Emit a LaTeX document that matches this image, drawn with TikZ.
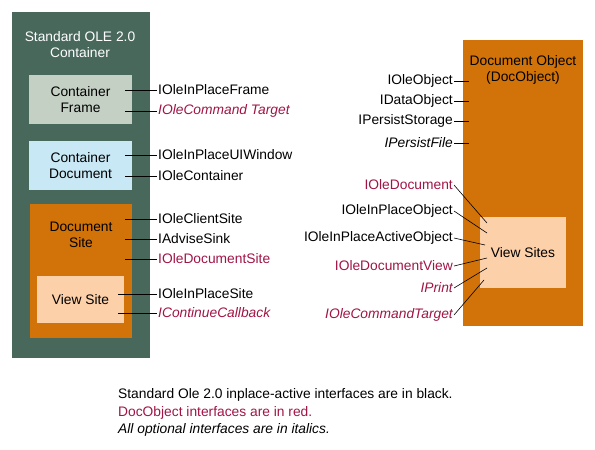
\documentclass[tikz,border=0pt]{standalone}
\usepackage{fontspec}
\setmainfont{Liberation Sans}
\usepackage{xcolor}
\usetikzlibrary{positioning}
\definecolor{contgreen}{RGB}{72,104,92}
\definecolor{framegray}{RGB}{197,208,197}
\definecolor{docblue}{RGB}{200,232,245}
\definecolor{siteorange}{RGB}{210,115,10}
\definecolor{viewpeach}{RGB}{252,208,168}
\definecolor{docred}{RGB}{160,20,70}

\begin{document}
\begin{tikzpicture}[x=1pt,y=-1pt,
  every node/.style={font=\fontsize{13.8}{16}\selectfont},
  panel/.style={draw=none,inner sep=0pt,align=center},
  iface/.style={inner sep=1pt},
  redface/.style={iface,text=docred},
  optface/.style={iface,font=\fontsize{13.8}{16}\selectfont\itshape},
  optred/.style={optface,text=docred},
  wire/.style={draw=black,line width=0.6pt}
]
\useasboundingbox (0,0) rectangle (595,450);

% container side
\node[panel,fill=contgreen,minimum width=138pt,minimum height=346pt] (container) at (81,185) {};
\node[panel,text=white] (contTitle) at (80,45) {Standard OLE 2.0\\Container};
\node[panel,fill=framegray,minimum width=103pt,minimum height=49pt] (frame) at (80.5,99.5) {Container\\Frame};
\node[panel,fill=docblue,minimum width=103pt,minimum height=49pt] (document) at (80.5,165.5) {Container\\Document};
\node[panel,fill=siteorange,minimum width=102pt,minimum height=134pt] (docsite) at (81,271) {};
\node[panel] (docsiteTitle) at (81,235) {Document\\Site};
\node[panel,fill=viewpeach,minimum width=87pt,minimum height=47pt] (viewsite) at (80.5,299.5) {View Site};

% container interfaces
\node[iface,anchor=west] (inplaceframe) at (157,90) {IOleInPlaceFrame};
\node[optred,anchor=west] (cmdtarget) at (157,111) {IOleCommand Target};
\node[iface,anchor=west] (uiwindow) at (157,155) {IOleInPlaceUIWindow};
\node[iface,anchor=west] (olecontainer) at (157,176) {IOleContainer};
\node[iface,anchor=west] (clientsite) at (157,219) {IOleClientSite};
\node[iface,anchor=west] (advisesink) at (157,239) {IAdviseSink};
\node[redface,anchor=west] (documentsite) at (157,259) {IOleDocumentSite};
\node[iface,anchor=west] (inplacesite) at (157,294) {IOleInPlaceSite};
\node[optred,anchor=west] (continuecb) at (157,313) {IContinueCallback};

\coordinate (f1) at (125,90);
\coordinate (f2) at (125,111);
\coordinate (d1) at (125,155);
\coordinate (d2) at (125,176);
\coordinate (s1) at (125,219);
\coordinate (s2) at (125,239);
\coordinate (s3) at (125,259);
\coordinate (v1) at (118,294);
\coordinate (v2) at (118,313);

\draw[wire] (f1) -- (inplaceframe.west);
\draw[wire] (f2) -- (cmdtarget.west);
\draw[wire] (d1) -- (uiwindow.west);
\draw[wire] (d2) -- (olecontainer.west);
\draw[wire] (s1) -- (clientsite.west);
\draw[wire] (s2) -- (advisesink.west);
\draw[wire] (s3) -- (documentsite.west);
\draw[wire] (v1) -- (inplacesite.west);
\draw[wire] (v2) -- (continuecb.west);

% document object side
\node[panel,fill=siteorange,minimum width=120pt,minimum height=286pt] (docobject) at (523,183) {};
\node[panel] (docobjTitle) at (523,70) {Document Object\\(DocObject)};
\node[panel,fill=viewpeach,minimum width=86pt,minimum height=71pt] (viewsites) at (523,252.5) {View Sites};

\node[iface,anchor=east] (oleobject) at (454,81) {IOleObject};
\node[iface,anchor=east] (dataobject) at (454,101) {IDataObject};
\node[iface,anchor=east] (persiststorage) at (454,121) {IPersistStorage};
\node[optface,anchor=east] (persistfile) at (454,143) {IPersistFile};
\node[redface,anchor=east] (oledocument) at (454,185) {IOleDocument};
\node[iface,anchor=east] (inplaceobject) at (454,211) {IOleInPlaceObject};
\node[iface,anchor=east] (activeobject) at (454,238) {IOleInPlaceActiveObject};
\node[redface,anchor=east] (documentview) at (454,266) {IOleDocumentView};
\node[optred,anchor=east] (print) at (454,288) {IPrint};
\node[optred,anchor=east] (olecmdtarget) at (454,315) {IOleCommandTarget};

\coordinate (o1) at (469,81);
\coordinate (o2) at (469,101);
\coordinate (o3) at (469,121);
\coordinate (o4) at (469,143);
\coordinate (w1) at (487,223);
\coordinate (w2) at (487,233);
\coordinate (w3) at (485,245);
\coordinate (w4) at (487,258);
\coordinate (w5) at (487,268);
\coordinate (w6) at (484,280);

\draw[wire] (oleobject.east) -- (o1);
\draw[wire] (dataobject.east) -- (o2);
\draw[wire] (persiststorage.east) -- (o3);
\draw[wire] (persistfile.east) -- (o4);
\draw[wire] (oledocument.east) -- (w1);
\draw[wire] (inplaceobject.east) -- (w2);
\draw[wire] (activeobject.east) -- (w3);
\draw[wire] (documentview.east) -- (w4);
\draw[wire] (print.east) -- (w5);
\draw[wire] (olecmdtarget.east) -- (w6);

% legend
\node[iface,anchor=west] (legendBlack) at (117,395) {Standard Ole 2.0 inplace-active interfaces are in black.};
\node[redface,anchor=west] (legendRed) at (117,412.5) {DocObject interfaces are in red.};
\node[optface,anchor=west] (legendItalic) at (117,430) {All optional interfaces are in italics.};
\end{tikzpicture}
\end{document}
